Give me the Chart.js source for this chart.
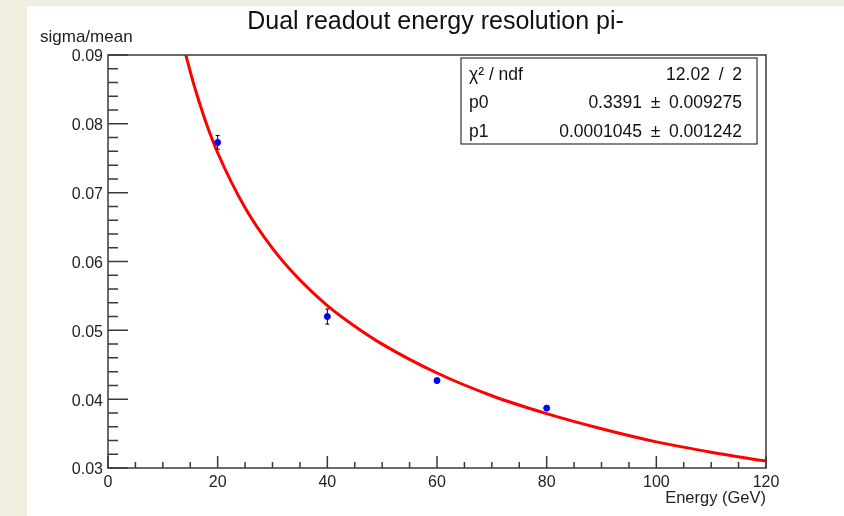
<!DOCTYPE html>
<html>
<head>
<meta charset="utf-8">
<title>Dual readout energy resolution pi-</title>
<script src="https://cdn.jsdelivr.net/npm/chart.js@4"></script>
<style>
  html, body { margin: 0; padding: 0; background: #f1eee0; }
  #wrap { position: absolute; left: 27px; top: 6px; width: 817px; height: 510px; background: #fff; }
</style>
</head>
<body>
<div id="wrap"><canvas id="chart" width="817" height="510"></canvas></div>
<script>
// measured points (energy in GeV, sigma/mean and its error)
const energy = [20, 40, 60, 80];
const resolution = [0.0773, 0.0520, 0.0427, 0.0387];
const resolutionErr = [0.0010, 0.0011, 0.0003, 0.0002];

// fitted curve
const fitEnergy = [14, 15, 16, 18, 20, 25, 30, 35, 40, 45, 50, 60, 70, 80, 90, 100, 110, 120];
const fitResolution = [0.0906, 0.0876, 0.0848, 0.0799, 0.0758, 0.0678, 0.0619, 0.0573, 0.0536,
                       0.0506, 0.0480, 0.0438, 0.0405, 0.0379, 0.0357, 0.0338, 0.0323, 0.0310];

// axis tick labels
const xTickLabels = ['0', '20', '40', '60', '80', '100', '120'];
const yTickLabels = ['0.03', '0.04', '0.05', '0.06', '0.07', '0.08', '0.09'];

// fit statistics box (ROOT puts slightly wider spaces in these)
const SP = '\u2002';
const statNames = ['\u03c7\u00b2 / ndf', 'p0', 'p1'];
const statValues = ['12.02' + SP + '/' + SP + '2',
                    '0.3391' + SP + '\u00b1' + SP + '0.009275',
                    '0.0001045' + SP + '\u00b1' + SP + '0.001242'];

const FONT = '"Liberation Sans", Arial, Helvetica, sans-serif';

function majorLabel(list, v) {
    const hit = list.find(l => Math.abs(parseFloat(l) - v) < 1e-9);
    return hit === undefined ? '' : hit;
}

// error bars, drawn between the curve and the markers
const errorBars = {
    id: 'errorBars',
    afterDatasetDraw(chart, args) {
        if (args.index !== 1) return;
        const { ctx, scales: { x, y } } = chart;
        ctx.save();
        ctx.strokeStyle = '#000';
        ctx.lineWidth = 1;
        ctx.beginPath();
        energy.forEach((e, i) => {
            const px = x.getPixelForValue(e);
            const top = y.getPixelForValue(resolution[i] + resolutionErr[i]);
            const bot = y.getPixelForValue(resolution[i] - resolutionErr[i]);
            ctx.moveTo(px, top); ctx.lineTo(px, bot);
            ctx.moveTo(px - 2, top); ctx.lineTo(px + 2, top);
            ctx.moveTo(px - 2, bot); ctx.lineTo(px + 2, bot);
        });
        ctx.stroke();
        ctx.restore();
    }
};

// ROOT style frame, inner ticks, y title and stats box
const rootFrame = {
    id: 'rootFrame',
    afterDraw(chart) {
        const { ctx, chartArea: a, scales: { x, y } } = chart;
        ctx.save();
        ctx.strokeStyle = '#3a3a3a';
        ctx.lineWidth = 1.5;
        ctx.strokeRect(a.left, a.top, a.right - a.left, a.bottom - a.top);

        ctx.beginPath();
        x.ticks.forEach(t => {
            const px = x.getPixelForValue(t.value);
            const len = majorLabel(xTickLabels, t.value) ? 12 : 6;
            ctx.moveTo(px, a.bottom); ctx.lineTo(px, a.bottom - len);
        });
        y.ticks.forEach(t => {
            const py = y.getPixelForValue(t.value);
            const len = majorLabel(yTickLabels, t.value) ? 20 : 10;
            ctx.moveTo(a.left, py); ctx.lineTo(a.left + len, py);
        });
        ctx.stroke();

        // y axis title, top left
        ctx.fillStyle = '#222';
        ctx.font = '17px ' + FONT;
        ctx.textAlign = 'left';
        ctx.textBaseline = 'middle';
        ctx.fillText('sigma/mean', 13, 31);

        // stats box
        const bw = 296, bh = 86;
        const bx = a.right - 9 - bw, by = a.top + 3;
        ctx.fillStyle = '#fff';
        ctx.fillRect(bx, by, bw, bh);
        ctx.lineWidth = 1.2;
        ctx.strokeStyle = '#333';
        ctx.strokeRect(bx, by, bw, bh);
        ctx.fillStyle = '#111';
        ctx.font = '17.5px ' + FONT;
        statNames.forEach((name, i) => {
            const ty = by + bh * (2 * i + 1) / 6 + 2.5;
            ctx.textAlign = 'left';
            ctx.fillText(name, bx + 8, ty);
            ctx.textAlign = 'right';
            ctx.fillText(statValues[i], bx + bw - 15, ty);
        });
        ctx.restore();
    }
};

new Chart(document.getElementById('chart'), {
    type: 'scatter',
    data: {
        datasets: [
            {
                label: 'data',
                data: energy.map((e, i) => ({ x: e, y: resolution[i] })),
                backgroundColor: '#0000ff',
                borderColor: '#0000ff',
                pointRadius: 3,
                showLine: false,
                order: 0
            },
            {
                label: 'fit',
                data: fitEnergy.map((e, i) => ({ x: e, y: fitResolution[i] })),
                borderColor: '#ff0000',
                borderWidth: 3,
                pointRadius: 0,
                showLine: true,
                cubicInterpolationMode: 'monotone',
                order: 1
            }
        ]
    },
    options: {
        responsive: false,
        animation: false,
        layout: { padding: 0 },
        plugins: {
            legend: { display: false },
            tooltip: { enabled: false },
            title: {
                display: true,
                text: 'Dual readout energy resolution pi-',
                color: '#111',
                font: { family: FONT, size: 25, weight: 'normal' },
                padding: { top: 1, bottom: 18 }
            }
        },
        scales: {
            x: {
                type: 'linear',
                min: 0,
                max: 120,
                grid: { display: false, drawTicks: false },
                border: { display: false },
                ticks: {
                    stepSize: 5,
                    autoSkip: false,
                    maxRotation: 0,
                    padding: 5,
                    color: '#222',
                    font: { family: FONT, size: 16 },
                    callback: v => majorLabel(xTickLabels, v)
                },
                title: {
                    display: true,
                    text: 'Energy (GeV)',
                    align: 'end',
                    color: '#222',
                    font: { family: FONT, size: 16.5 },
                    padding: { top: 0, bottom: 8 }
                },
                afterFit: s => { s.height = 48; }
            },
            y: {
                type: 'linear',
                min: 0.03,
                max: 0.09,
                grid: { display: false, drawTicks: false },
                border: { display: false },
                ticks: {
                    stepSize: 0.002,
                    autoSkip: false,
                    padding: 5,
                    labelOffset: 2,
                    color: '#222',
                    font: { family: FONT, size: 16 },
                    callback: v => majorLabel(yTickLabels, v)
                },
                afterFit: s => { s.width = 81; }
            },
            // empty right-hand margin so the title centres on the whole pad
            margin: {
                type: 'linear',
                position: 'right',
                display: true,
                min: 0,
                max: 1,
                grid: { display: false, drawTicks: false },
                border: { display: false },
                ticks: { display: false },
                afterFit: s => { s.width = 78; }
            }
        }
    },
    plugins: [errorBars, rootFrame]
});
</script>
</body>
</html>
